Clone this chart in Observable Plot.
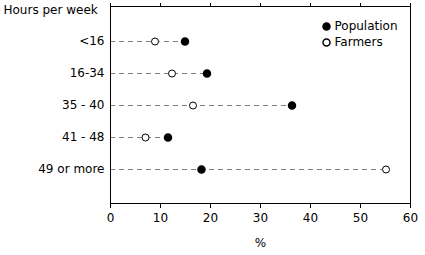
<!DOCTYPE html>
<html>
<head>
<meta charset="utf-8">
<script src="https://cdn.jsdelivr.net/npm/d3@7"></script>
<script src="https://cdn.jsdelivr.net/npm/@observablehq/plot@0.6"></script>
<style>
  body { margin: 0; background: #fff; }
  svg { font-family: "DejaVu Sans", sans-serif; }
</style>
</head>
<body>
<div id="chart"></div>
<script>
const categories = ["<16", "16-34", "35 - 40", "41 - 48", "49 or more"];
const population = [14.9, 19.3, 36.3, 11.5, 18.2];
const farmers = [8.9, 12.3, 16.5, 7.0, 55.1];
const xTicks = [0, 10, 20, 30, 40, 50, 60];
const seriesNames = ["Population", "Farmers"];

const rows = categories.map((c, i) => ({cat: c, pop: population[i], farm: farmers[i], max: Math.max(population[i], farmers[i])}));
const popPts = categories.map((c, i) => ({cat: c, v: population[i]}));
const farmPts = categories.map((c, i) => ({cat: c, v: farmers[i]}));

const chart = Plot.plot({
  width: 425,
  height: 255,
  marginLeft: 110,
  marginRight: 15,
  marginTop: 6,
  marginBottom: 52,
  style: {fontSize: "12px", fontFamily: "DejaVu Sans, sans-serif", color: "#000"},
  x: {domain: [0, 60], ticks: xTicks},
  y: {type: "point", domain: categories, padding: 1},
  marks: [
    Plot.ruleY(rows, {y: "cat", x1: 0, x2: "max", stroke: "#808080", strokeWidth: 1, strokeDasharray: "5,4"}),
    Plot.frame({stroke: "#000", strokeWidth: 1}),
    Plot.axisX({anchor: "top", ticks: xTicks, tickSize: 4, tickFormat: () => "", label: null}),
    Plot.axisX({anchor: "bottom", ticks: xTicks, tickSize: 5, tickPadding: 5, label: "%", labelAnchor: "center", labelArrow: "none", labelOffset: 43, fontSize: 12}),
    Plot.axisY({anchor: "left", tickSize: 0, tickPadding: 6, label: null, fontSize: 12}),
    Plot.text(["Hours per week"], {frameAnchor: "top-left", dx: -107, dy: 3.5, lineAnchor: "middle", textAnchor: "start", fontSize: 12, fill: "#000"}),
    Plot.dot(farmPts, {x: "v", y: "cat", r: 3.5, fill: "#fff", stroke: "#000", strokeWidth: 1}),
    Plot.dot(popPts, {x: "v", y: "cat", r: 3.5, fill: "#000", stroke: "#000"}),
    Plot.dot([seriesNames[0]], {frameAnchor: "top-right", dx: -84, dy: 20, r: 3.5, fill: "#000", stroke: "#000"}),
    Plot.text([seriesNames[0]], {frameAnchor: "top-right", dx: -76, dy: 20, lineAnchor: "middle", textAnchor: "start", fontSize: 12, fill: "#000"}),
    Plot.dot([seriesNames[1]], {frameAnchor: "top-right", dx: -84, dy: 36, r: 3.5, fill: "#fff", stroke: "#000"}),
    Plot.text([seriesNames[1]], {frameAnchor: "top-right", dx: -76, dy: 36, lineAnchor: "middle", textAnchor: "start", fontSize: 12, fill: "#000"})
  ]
});
document.getElementById("chart").appendChild(chart);
</script>
</body>
</html>
